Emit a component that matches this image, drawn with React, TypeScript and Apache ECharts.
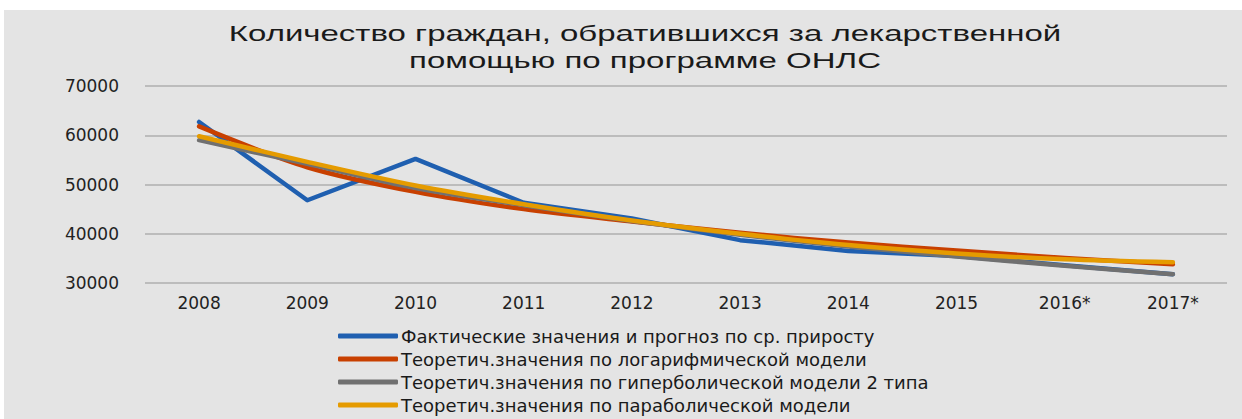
import React, { useEffect, useRef } from "react";
import * as echarts from "echarts";

const categories = ["2008", "2009", "2010", "2011", "2012", "2013", "2014", "2015", "2016*", "2017*"];
const actual = [62700, 46800, 55200, 46300, 43100, 38700, 36500, 35500, 33600, 31800];
const logModel = [61800, 53500, 48500, 45000, 42500, 40200, 38200, 36600, 35100, 33800];
const hyperModel = [59000, 54200, 49300, 45800, 42600, 39800, 37400, 35400, 33500, 31800];
const paraModel = [59800, 54600, 49800, 46000, 42700, 40000, 37700, 36000, 34800, 34200];
const seriesNames = [
  "Фактические значения и прогноз по ср. приросту",
  "Теоретич.значения по логарифмической модели",
  "Теоретич.значения по гиперболической модели 2 типа",
  "Теоретич.значения по параболической модели",
];
const titleText = "Количество граждан, обратившихся за лекарственной\nпомощью по программе ОНЛС";
const colors = ["#1f5fb0", "#c84000", "#707070", "#e59b00"];

export default function App() {
  const ref = useRef<HTMLDivElement>(null);
  useEffect(() => {
    document.body.style.margin = "0";
    const chart = echarts.init(ref.current!, null, { renderer: "svg" });
    const data = [actual, logModel, hyperModel, paraModel];
    chart.setOption({
      animation: false,
      backgroundColor: "#ffffff",
      graphic: [
        {
          type: "rect",
          z: -10,
          shape: { x: 4, y: 10, width: 1242, height: 419 },
          style: { fill: "#e4e4e4" },
          silent: true,
        },
        {
          type: "text",
          x: 645,
          y: 20,
          scaleX: 1.5,
          style: {
            text: titleText,
            align: "center",
            verticalAlign: "top",
            fontFamily: "Liberation Sans",
            fontSize: 22,
            lineHeight: 27,
            fill: "#1a1a1a",
          },
          silent: true,
        },
      ],
      legend: {
        orient: "vertical",
        left: 333,
        top: 322,
        itemWidth: 60,
        itemHeight: 5,
        itemGap: 5,
        icon: "roundRect",
        textStyle: {
          fontFamily: "DejaVu Sans",
          fontSize: 18,
          color: "#1a1a1a",
          padding: [0, 0, 0, -2],
        },
        data: seriesNames,
      },
      grid: { left: 145, right: 15, top: 86, bottom: 136 },
      xAxis: {
        type: "category",
        data: categories,
        boundaryGap: true,
        axisLine: { show: false },
        axisTick: { show: false },
        axisLabel: {
          fontFamily: "DejaVu Sans",
          fontSize: 17,
          color: "#222",
          margin: 11,
        },
      },
      yAxis: {
        type: "value",
        min: 30000,
        max: 70000,
        interval: 10000,
        axisLine: { show: false },
        axisTick: { show: false },
        splitLine: { lineStyle: { color: "#bcbcbc", width: 2 } },
        axisLabel: {
          fontFamily: "DejaVu Sans",
          fontSize: 17,
          color: "#222",
          margin: 26,
          formatter: (v: number) => String(v),
        },
      },
      series: data.map((d, i) => ({
        name: seriesNames[i],
        type: "line",
        data: d,
        smooth: i === 0 ? false : 0.3,
        symbol: "none",
        color: colors[i],
        lineStyle: { width: 4.5, color: colors[i], cap: "round", join: "round" },
      })),
    });
    return () => chart.dispose();
  }, []);
  return <div ref={ref} style={{ width: 1242, height: 419 }} />;
}
